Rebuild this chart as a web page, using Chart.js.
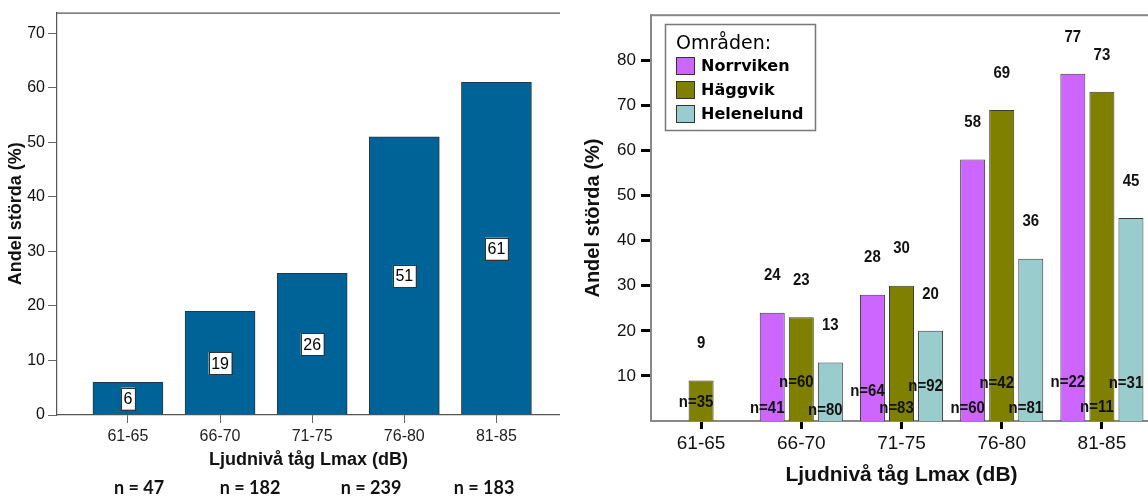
<!DOCTYPE html>
<html>
<head>
<meta charset="utf-8">
<script src="https://cdn.jsdelivr.net/npm/chart.js@4.4.1/dist/chart.umd.min.js"></script>
<style>
  html, body { margin: 0; padding: 0; background: #fff; width: 1148px; height: 501px; overflow: hidden; }
  .panel { position: absolute; top: 0; height: 501px; }
  #leftPanel { left: 0; width: 560px; }
  #rightPanel { left: 560px; width: 600px; }
  .ncount { position: absolute; top: 476px; transform: translateX(-50%); white-space: nowrap;
            font: bold 18px Lato, 'Open Sans', sans-serif; color: #111; }
</style>
</head>
<body>
<div class="panel" id="leftPanel"><canvas id="totalChart" width="560" height="501"></canvas></div>
<div class="panel" id="rightPanel"><canvas id="areaChart" width="600" height="501"></canvas></div>
<div id="nRow"></div>
<script>
// Share annoyed (%) by train noise level, all areas and per area.

const BANDS = ['61-65', '66-70', '71-75', '76-80', '81-85'];

const TOTAL_PCT = [6, 19, 26, 51, 61];
const TOTAL_N = [47, 182, 239, 183];
const LEFT_Y_TICKS = [0, 10, 20, 30, 40, 50, 60, 70];

const AREAS = ['Norrviken', 'Häggvik', 'Helenelund'];
const NORRVIKEN_PCT = [null, 24, 28, 58, 77];
const HAGGVIK_PCT = [9, 23, 30, 69, 73];
const HELENELUND_PCT = [null, 13, 20, 36, 45];
const NORRVIKEN_N = [null, 41, 64, 60, 22];
const HAGGVIK_N = [35, 60, 83, 42, 11];
const HELENELUND_N = [null, 80, 92, 81, 31];
const RIGHT_Y_TICKS = [10, 20, 30, 40, 50, 60, 70, 80];

// layout: where the n= captions sit (px above the x axis), per area
const N_RISE = [
  [0, 13, 30, 13, 39],
  [19, 39, 13, 38, 14],
  [0, 11, 35, 13, 38],
];
const N_COUNT_X = [139, 250, 371, 484];

const AREA_COLORS = ['#cc66ff', '#808000', '#99cccc'];
const ARIAL = "'Liberation Sans', Arial, sans-serif";

Chart.defaults.color = '#111';
Chart.defaults.animation = false;

// ---------- left: all areas ----------

const boxLabels = {
  id: 'boxLabels',
  afterDatasetsDraw(chart) {
    const { ctx } = chart;
    const y = chart.scales.y;
    const meta = chart.getDatasetMeta(0);
    ctx.save();
    ctx.font = `16px ${ARIAL}`;
    ctx.textAlign = 'center';
    ctx.textBaseline = 'middle';
    meta.data.forEach((bar, i) => {
      const v = TOTAL_PCT[i];
      const txt = String(v);
      const cy = y.getPixelForValue(v / 2);
      const w = ctx.measureText(txt).width + 5;
      const h = 22;
      ctx.fillStyle = '#fff';
      ctx.fillRect(bar.x - w / 2, cy - h / 2, w, h);
      ctx.strokeStyle = '#333';
      ctx.lineWidth = 1;
      ctx.strokeRect(Math.round(bar.x - w / 2) + 0.5, Math.round(cy - h / 2) + 0.5, Math.round(w), h);
      ctx.fillStyle = '#000';
      ctx.fillText(txt, bar.x, cy + 1);
    });
    ctx.restore();
  },
};

const topLine = {
  id: 'topLine',
  beforeDatasetsDraw(chart) {
    const { ctx, chartArea: a } = chart;
    ctx.save();
    ctx.strokeStyle = '#555';
    ctx.lineWidth = 1.2;
    ctx.beginPath();
    ctx.moveTo(a.left, a.top + 0.5);
    ctx.lineTo(a.right, a.top + 0.5);
    ctx.stroke();
    ctx.restore();
  },
};

new Chart(document.getElementById('totalChart'), {
  type: 'bar',
  data: {
    datasets: [{
      data: TOTAL_PCT.map((v, i) => ({ x: i + 1, y: v })),
      backgroundColor: '#006398',
      borderColor: '#23384a',
      borderWidth: 1,
      barThickness: 70,
    }],
  },
  options: {
    responsive: false,
    layout: { padding: { top: 9, right: 0, left: 0, bottom: 0 } },
    plugins: { legend: { display: false }, tooltip: { enabled: false } },
    scales: {
      x: {
        type: 'linear',
        offset: false,
        min: 0.23,
        max: 5.69,
        afterBuildTicks: (s) => { s.ticks = BANDS.map((_, i) => ({ value: i + 1 })); },
        afterFit: (s) => { s.height = 86; },
        ticks: { callback: (v) => BANDS[v - 1], font: { family: ARIAL, size: 16 }, color: '#222', padding: 4, maxRotation: 0 },
        grid: { offset: false, drawOnChartArea: false, tickLength: 8, tickColor: '#666', tickWidth: 1 },
        border: { color: '#555', width: 1.2 },
        title: { display: true, text: 'Ljudnivå tåg Lmax (dB)', font: { family: ARIAL, size: 18, weight: 'bold' }, color: '#111', padding: { bottom: 30 } },
      },
      y: {
        min: 0,
        max: 73.8,
        afterBuildTicks: (s) => { s.ticks = LEFT_Y_TICKS.map((v) => ({ value: v })); },
        afterFit: (s) => { s.width = 57; },
        ticks: { font: { family: ARIAL, size: 16 }, color: '#111', padding: 3 },
        grid: { drawOnChartArea: false, tickLength: 9, tickColor: '#666', tickWidth: 1 },
        border: { color: '#555', width: 1.2 },
        title: { display: true, text: 'Andel störda (%)', font: { family: ARIAL, size: 18, weight: 'bold' }, color: '#111', padding: { top: 5 } },
      },
    },
  },
  plugins: [topLine, boxLabels],
});

const nRow = document.getElementById('nRow');
TOTAL_N.forEach((n, i) => {
  const s = document.createElement('span');
  s.className = 'ncount';
  s.style.left = N_COUNT_X[i] + 'px';
  s.textContent = `n = ${n}`;
  nRow.appendChild(s);
});

// ---------- right: per area ----------

const AREA_PCT = [NORRVIKEN_PCT, HAGGVIK_PCT, HELENELUND_PCT];
const AREA_N = [NORRVIKEN_N, HAGGVIK_N, HELENELUND_N];

const frame = {
  id: 'frame',
  beforeDatasetsDraw(chart) {
    const { ctx, chartArea: a } = chart;
    ctx.save();
    ctx.strokeStyle = '#888';
    ctx.lineWidth = 2;
    ctx.strokeRect(a.left, a.top, a.right - a.left, a.bottom - a.top);
    ctx.restore();
  },
};

// narrow bold text: squeeze Liberation Sans horizontally
function narrowText(ctx, txt, x, y) {
  ctx.save();
  ctx.translate(x, y);
  ctx.scale(0.88, 1);
  ctx.fillText(txt, 0, 0);
  ctx.restore();
}

const barCaptions = {
  id: 'barCaptions',
  afterDatasetsDraw(chart) {
    const { ctx } = chart;
    const base = chart.scales.y.getPixelForValue(0);
    ctx.save();
    ctx.textAlign = 'center';
    ctx.textBaseline = 'middle';
    ctx.fillStyle = '#111';
    ctx.font = `bold 17px ${ARIAL}`;
    chart.data.datasets.forEach((ds, d) => {
      chart.getDatasetMeta(d).data.forEach((bar, i) => {
        const v = AREA_PCT[d][i];
        if (v == null) return;
        narrowText(ctx, String(v), bar.x, bar.y - 37);
        narrowText(ctx, `n=${AREA_N[d][i]}`, bar.x - 5, base - N_RISE[d][i]);
      });
    });
    ctx.restore();
  },
};

const areaLegend = {
  id: 'areaLegend',
  afterDraw(chart) {
    const { ctx } = chart;
    const x = 105, y = 24, w = 150, h = 106;
    ctx.save();
    ctx.fillStyle = '#fff';
    ctx.fillRect(x, y, w, h);
    ctx.strokeStyle = '#777';
    ctx.lineWidth = 1.5;
    ctx.strokeRect(x + 0.5, y + 0.5, w, h);
    ctx.fillStyle = '#000';
    ctx.textBaseline = 'middle';
    ctx.font = "19px 'DejaVu Sans', sans-serif";
    ctx.fillText('Områden:', x + 11, y + 20);
    ctx.font = "bold 16px 'DejaVu Sans', sans-serif";
    chart.data.datasets.forEach((ds, i) => {
      const ry = y + 42 + i * 24;
      ctx.fillStyle = ds.backgroundColor;
      ctx.fillRect(x + 11, ry - 9, 19, 18);
      ctx.strokeStyle = '#333';
      ctx.lineWidth = 1;
      ctx.strokeRect(x + 11.5, ry - 8.5, 18, 17);
      ctx.fillStyle = '#000';
      ctx.fillText(ds.label, x + 36, ry + 1);
    });
    ctx.restore();
  },
};

new Chart(document.getElementById('areaChart'), {
  type: 'bar',
  data: {
    labels: BANDS,
    datasets: AREAS.map((name, i) => ({
      label: name,
      data: AREA_PCT[i],
      backgroundColor: AREA_COLORS[i],
      borderColor: '#3a3a3a',
      borderWidth: 1,
      categoryPercentage: 0.87,
      barPercentage: 0.86,
    })),
  },
  options: {
    responsive: false,
    layout: { padding: { top: 7, right: 8, left: 0, bottom: 0 } },
    plugins: { legend: { display: false }, tooltip: { enabled: false } },
    scales: {
      x: {
        offset: true,
        afterFit: (s) => { s.height = 80; },
        ticks: { font: { family: ARIAL, size: 19 }, color: '#111', padding: 3, maxRotation: 0 },
        grid: { offset: false, drawOnChartArea: false, tickLength: 8, tickColor: '#000', tickWidth: 3 },
        border: { color: '#888', width: 2 },
        title: { display: true, text: 'Ljudnivå tåg Lmax (dB)', font: { family: ARIAL, size: 21, weight: 'bold' }, color: '#111', padding: { bottom: 13 } },
      },
      y: {
        min: 0,
        max: 90,
        afterBuildTicks: (s) => { s.ticks = RIGHT_Y_TICKS.map((v) => ({ value: v })); },
        afterFit: (s) => { s.width = 91; },
        ticks: { font: { family: ARIAL, size: 17 }, color: '#111', padding: 5 },
        grid: { drawOnChartArea: false, tickLength: 10, tickColor: '#000', tickWidth: 3 },
        border: { color: '#888', width: 2 },
        title: { display: true, text: 'Andel störda (%)', font: { family: ARIAL, size: 20, weight: 'bold' }, color: '#111', padding: { top: 21 } },
      },
    },
  },
  plugins: [frame, barCaptions, areaLegend],
});
</script>
</body>
</html>
